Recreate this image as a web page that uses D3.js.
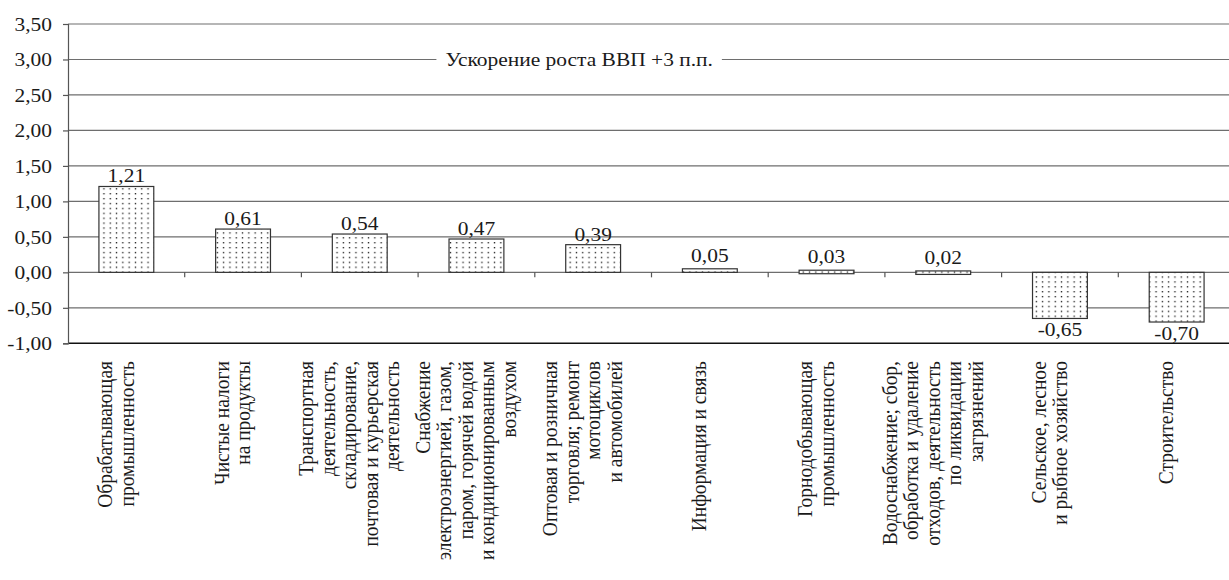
<!DOCTYPE html>
<html>
<head>
<meta charset="utf-8">
<script src="https://cdn.jsdelivr.net/npm/d3@7"></script>
<style>
  html, body { margin: 0; padding: 0; background: #fff; }
  svg { display: block; }
</style>
</head>
<body>
<svg id="chart" width="1229" height="580"></svg>
<script>
// ---- data ----
const categories = [
  ["Обрабатывающая", "промышленность"],
  ["Чистые налоги", "на продукты"],
  ["Транспортная", "деятельность,", "складирование,", "почтовая и курьерская", "деятельность"],
  ["Снабжение", "электроэнергией, газом,", "паром, горячей водой", "и кондиционированным", "воздухом"],
  ["Оптовая и розничная", "торговля; ремонт", "мотоциклов", "и автомобилей"],
  ["Информация и связь"],
  ["Горнодобывающая", "промышленность"],
  ["Водоснабжение; сбор,", "обработка и удаление", "отходов, деятельность", "по ликвидации", "загрязнений"],
  ["Сельское, лесное", "и рыбное хозяйство"],
  ["Строительство"]
];
const values = [1.21, 0.61, 0.54, 0.47, 0.39, 0.05, 0.03, 0.02, -0.65, -0.70];
const yTicks = [-1, -0.5, 0, 0.5, 1, 1.5, 2, 2.5, 3, 3.5];
const annotationText = "Ускорение роста ВВП +3 п.п.";
const annotationValue = 3.0;

// ---- layout ----
const svg = d3.select("#chart");
const mLeft = 68, mRight = 1235, mTop = 24, mBottom = 343.3;
const SX = 1.1;           // horizontal stretch of the lettering
const FS = 19.5;
const FONT = "Liberation Serif";
const fmt = v => d3.format(".2f")(v).replace(".", ",").replace("−", "-");
const serif = sel => sel.style("font-family", FONT).style("font-size", FS + "px").attr("fill", "#1a1a1a");

const keys = categories.map(c => c.join(" "));
const x = d3.scaleBand().domain(keys).range([mLeft, mRight]).paddingInner(0.53).paddingOuter(0.265);
const step = x.step();
const y = d3.scaleLinear().domain([-1, 3.5]).range([mBottom, mTop]);

// pattern
const defs = svg.append("defs");
const pat = defs.append("pattern").attr("id", "dots").attr("patternUnits", "userSpaceOnUse")
  .attr("width", 6.3).attr("height", 4.9);
pat.append("rect").attr("width", 6.3).attr("height", 4.9).attr("fill", "#fff");
pat.append("rect").attr("x", 2.5).attr("y", 2).attr("width", 1.3).attr("height", 1.3).attr("fill", "#111");

// gridlines
svg.append("g").selectAll("line").data(yTicks.filter(t => t !== -1)).join("line")
  .attr("x1", mLeft).attr("x2", 1229)
  .attr("y1", d => y(d)).attr("y2", d => y(d))
  .attr("stroke", "#6e6e6e").attr("stroke-width", 1.2);

// bottom border
svg.append("line").attr("x1", mLeft).attr("x2", 1229).attr("y1", y(-1)).attr("y2", y(-1))
  .attr("stroke", "#111").attr("stroke-width", 1.6);

// y axis
const yAxis = svg.append("g").attr("transform", `translate(${mLeft},0)`)
  .call(d3.axisLeft(y).tickValues(yTicks).tickFormat(fmt).tickSize(5).tickPadding(9));
yAxis.select(".domain").attr("stroke", "#555").attr("stroke-width", 1.2);
yAxis.selectAll(".tick line").attr("stroke", "#555").attr("stroke-width", 1.2);
yAxis.selectAll("text").call(serif)
  .attr("x", -16 / SX).attr("transform", `scale(${SX},1)`);

// category tick marks on the zero line
svg.append("g").selectAll("line").data(keys.slice(1)).join("line")
  .attr("x1", d => x(d) - step * 0.265).attr("x2", d => x(d) - step * 0.265)
  .attr("y1", y(0)).attr("y2", y(0) + 5)
  .attr("stroke", "#555").attr("stroke-width", 1.2);

// bars
svg.append("g").selectAll("rect").data(values).join("rect")
  .attr("x", (d, i) => x(keys[i]))
  .attr("width", x.bandwidth())
  .attr("y", d => y(Math.max(0, d)))
  .attr("height", d => Math.max(3.5, Math.abs(y(d) - y(0))))
  .attr("fill", "url(#dots)")
  .attr("stroke", "#333").attr("stroke-width", 1.2);

// value labels
svg.append("g").selectAll("text").data(values).join("text")
  .attr("transform", (d, i) => {
    const cx = x(keys[i]) + x.bandwidth() / 2;
    const cy = d >= 0 ? y(d) - 4 - (d < 0.1 ? 3 : 0) : y(d) + 18;
    return `translate(${cx},${cy}) scale(${SX},1)`;
  })
  .attr("text-anchor", "middle")
  .call(serif)
  .text(d => fmt(d));

// annotation (gap in the gridline behind the text)
const ax = mLeft + (mRight - mLeft) * 0.438, ay = y(annotationValue);
const annG = svg.append("g").attr("transform", `translate(${ax},${ay})`);
const gapRect = annG.append("rect").attr("fill", "#fff");
const ann = annG.append("text").attr("y", 6.5).attr("transform", `scale(${SX},1)`)
  .attr("text-anchor", "middle").call(serif)
  .text(annotationText);
const bw = ann.node().getBBox().width * SX;
gapRect.attr("x", -bw / 2 - 9).attr("y", -3).attr("width", bw + 18).attr("height", 6);

// category labels (rotated)
const lineH = 21.5;
const lab = svg.append("g").selectAll("text").data(categories).join("text")
  .attr("transform", (d, i) => `translate(${x(keys[i]) + x.bandwidth() / 2 - 11},361) scale(${SX},1) rotate(-90)`)
  .attr("text-anchor", "end")
  .call(serif);
lab.each(function(lines) {
  const n = lines.length;
  d3.select(this).selectAll("tspan").data(lines).join("tspan")
    .attr("x", 0)
    .attr("y", (l, j) => ((j - (n - 1) / 2) * lineH) / SX + 6.8)
    .text(l => l);
});
</script>
</body>
</html>
